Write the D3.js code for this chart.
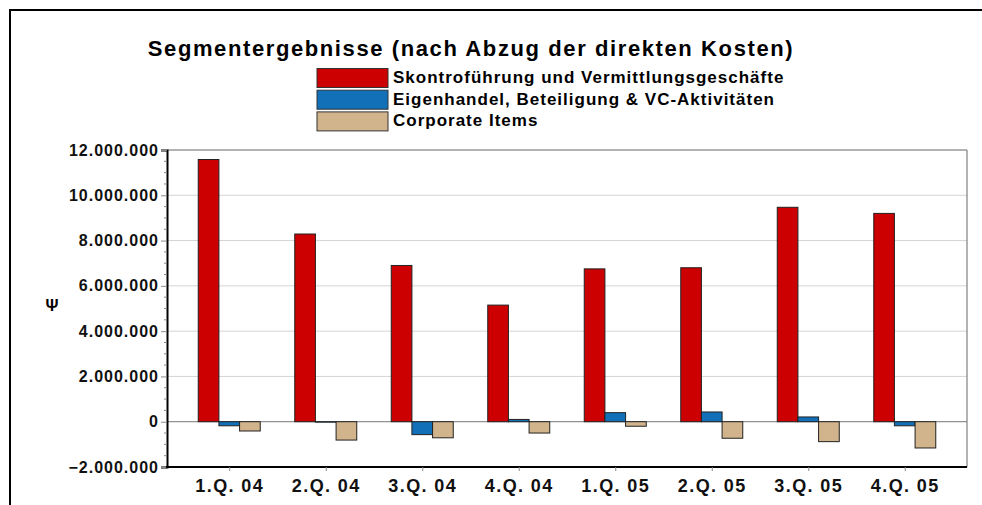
<!DOCTYPE html>
<html>
<head>
<meta charset="utf-8">
<script src="https://cdn.jsdelivr.net/npm/d3@7"></script>
<style>
  html, body { margin: 0; padding: 0; background: #fff; }
  svg { display: block; font-family: "Liberation Sans", Arial, sans-serif; }
</style>
</head>
<body>
<div id="chart"></div>
<script>
// data
const quarters = ["1.Q. 04", "2.Q. 04", "3.Q. 04", "4.Q. 04", "1.Q. 05", "2.Q. 05", "3.Q. 05", "4.Q. 05"];
const skontro = [11580000, 8290000, 6900000, 5150000, 6750000, 6800000, 9470000, 9200000];
const eigenhandel = [-180000, -20000, -570000, 100000, 400000, 430000, 210000, -180000];
const corporate = [-410000, -810000, -710000, -500000, -200000, -730000, -880000, -1160000];
const seriesNames = ["Skontroführung und Vermittlungsgeschäfte", "Eigenhandel, Beteiligung & VC-Aktivitäten", "Corporate Items"];
const seriesColors = ["#cc0000", "#1170b8", "#d2b48c"];
const yTicks = [-2000000, 0, 2000000, 4000000, 6000000, 8000000, 10000000, 12000000];

const width = 982, height = 505;
const marginLeft = 167, marginRight = 15, marginTop = 150, marginBottom = 38;

const svg = d3.create("svg").attr("width", width).attr("height", height);

// outer frame (only left and top visible)
svg.append("path")
  .attr("d", `M10,${height}V10H${width}`)
  .attr("fill", "none").attr("stroke", "#000").attr("stroke-width", 2);

// title
svg.append("text")
  .attr("x", 471).attr("y", 56)
  .attr("text-anchor", "middle")
  .attr("font-size", 22).attr("font-weight", "bold").attr("letter-spacing", 1.6)
  .text("Segmentergebnisse (nach Abzug der direkten Kosten)");

// legend
const legend = svg.append("g").attr("transform", "translate(317,68.5)");
seriesNames.forEach((name, i) => {
  const g = legend.append("g").attr("transform", `translate(0,${i * 21.7})`);
  g.append("rect").attr("width", 71).attr("height", 19)
    .attr("fill", seriesColors[i]).attr("stroke", "#333").attr("stroke-width", 1);
  g.append("text").attr("x", 76).attr("y", 14.5)
    .attr("font-size", 17).attr("font-weight", "bold").attr("letter-spacing", 1)
    .text(name);
});

const x = d3.scalePoint()
  .domain(quarters)
  .range([marginLeft, width - marginRight])
  .padding(0.645);

const x1 = d3.scaleBand()
  .domain(d3.range(3))
  .range([-31, 31]);

const y = d3.scaleLinear()
  .domain([-2000000, 12000000])
  .range([height - marginBottom, marginTop]);

// gridlines
svg.append("g")
  .selectAll("line")
  .data(yTicks.filter(d => d !== 0 && d !== -2000000 && d !== 12000000))
  .join("line")
  .attr("x1", marginLeft).attr("x2", width - marginRight)
  .attr("y1", d => y(d)).attr("y2", d => y(d))
  .attr("stroke", "#d4d4d4");

// top / right frame of plot
svg.append("path")
  .attr("d", `M${marginLeft},${marginTop}H${width - marginRight}V${height - marginBottom}`)
  .attr("fill", "none").attr("stroke", "#666").attr("stroke-width", 1);

// zero line
svg.append("line")
  .attr("x1", marginLeft).attr("x2", width - marginRight)
  .attr("y1", y(0)).attr("y2", y(0))
  .attr("stroke", "#777");

// bars
const rows = quarters.map((q, i) => [skontro[i], eigenhandel[i], corporate[i]]);
svg.append("g")
  .selectAll("g")
  .data(rows)
  .join("g")
  .attr("transform", (d, i) => `translate(${x(quarters[i])},0)`)
  .selectAll("rect")
  .data(d => d.map((v, k) => ({ v, k })))
  .join("rect")
  .attr("x", d => x1(d.k))
  .attr("width", x1.bandwidth())
  .attr("y", d => y(Math.max(0, d.v)))
  .attr("height", d => Math.abs(y(d.v) - y(0)))
  .attr("fill", d => seriesColors[d.k])
  .attr("stroke", "#222").attr("stroke-width", 1);

// y axis
const fmt = d3.formatLocale({ decimal: ",", thousands: ".", grouping: [3], currency: ["", "€"] }).format(",d");
svg.append("g")
  .attr("transform", `translate(${marginLeft},0)`)
  .call(d3.axisLeft(y).tickValues(yTicks).tickFormat(fmt).tickSize(6).tickPadding(2))
  .call(g => g.select(".domain").attr("stroke", "#000").attr("stroke-width", 2))
  .call(g => g.selectAll(".tick line").attr("stroke", "#888"))
  .call(g => g.selectAll(".tick text")
    .attr("font-size", 16).attr("font-weight", "bold").attr("letter-spacing", 1)
    .attr("fill", "#111").attr("font-family", "Liberation Sans, Arial, sans-serif"));

// minor ticks
svg.append("g")
  .selectAll("line")
  .data(d3.range(-2000000, 12000001, 500000).filter(v => !yTicks.includes(v)))
  .join("line")
  .attr("x1", marginLeft - 3).attr("x2", marginLeft)
  .attr("y1", d => y(d)).attr("y2", d => y(d))
  .attr("stroke", "#888");

// x axis
svg.append("g")
  .attr("transform", `translate(0,${height - marginBottom})`)
  .call(d3.axisBottom(x).tickSize(4).tickPadding(8).tickSizeOuter(0))
  .call(g => g.select(".domain").attr("stroke", "#000").attr("stroke-width", 2)
    .attr("d", `M${marginLeft - 1},0H${width - marginRight}`))
  .call(g => g.selectAll(".tick line").attr("stroke", "#888"))
  .call(g => g.selectAll(".tick text")
    .attr("font-size", 18).attr("font-weight", "bold").attr("letter-spacing", 1.4)
    .attr("fill", "#111").attr("font-family", "Liberation Sans, Arial, sans-serif"));

// y axis label
svg.append("text")
  .attr("x", 52).attr("y", 311)
  .attr("text-anchor", "middle")
  .attr("font-size", 16).attr("font-weight", "bold")
  .text("Ψ");

document.getElementById("chart").appendChild(svg.node());
</script>
</body>
</html>
